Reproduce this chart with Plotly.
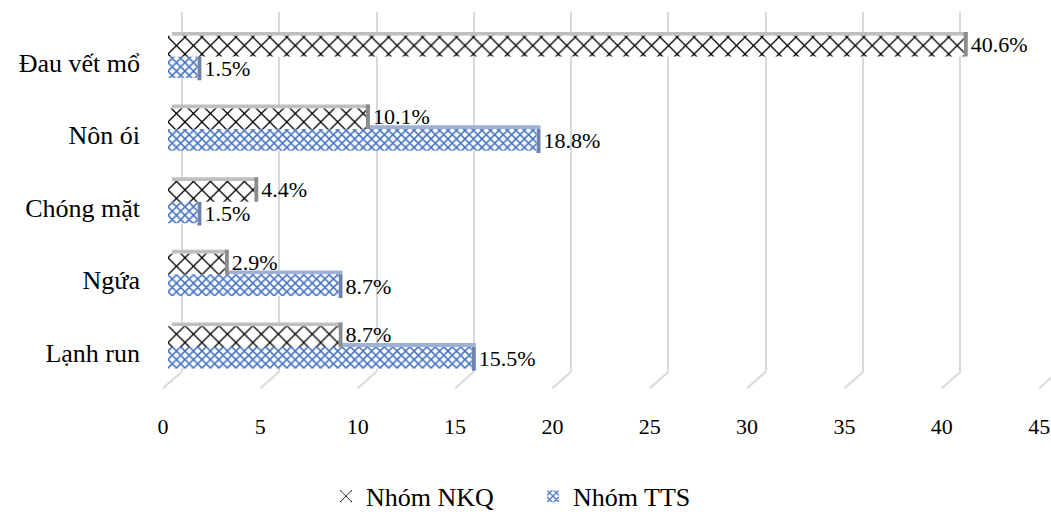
import plotly.graph_objects as go

# ---- data ----
categories = ["Đau vết mổ", "Nôn ói", "Chóng mặt", "Ngứa", "Lạnh run"]
nkq_values = [40.6, 10.1, 4.4, 2.9, 8.7]
tts_values = [1.5, 18.8, 1.5, 8.7, 15.5]
tick_values = [0, 5, 10, 15, 20, 25, 30, 35, 40, 45]
series_names = ["Nhóm NKQ", "Nhóm TTS"]

# ---- canvas geometry (pixels) ----
W, H = 1051, 520
FONT = "Liberation Serif"


def fx(p):
    return p / W


def fy(p):
    return 1 - p / H


# three horizontal scales of the pseudo-3D box: back wall, floor front, bar mid-depth
BACK_X0, BACK_K = 182, 19.45
FRONT_X0, FRONT_K = 163, 19.47
BAR_X0, BAR_K = 168, 19.6
WALL_TOP, WALL_BOTTOM, FLOOR_FRONT = 12, 378, 395
CAT_TOP, CAT_BOTTOM = 20.5, 390
CAT_PX = (CAT_BOTTOM - CAT_TOP) / len(categories)

depth_units = (BACK_X0 - FRONT_X0) / FRONT_K   # floor depth on the front scale
bar_depth = 4 / BAR_K                           # bar side thickness
face = 4 / CAT_PX                               # top-face height, category units
nkq_h = 21 / CAT_PX
tts_h = 22 / CAT_PX

n = len(categories)
fig = go.Figure()

# subplot 1: back-wall gridlines
fig.add_trace(go.Scatter(x=[None], y=[None], xaxis="x", yaxis="y",
                         showlegend=False, hoverinfo="skip"))
# subplot 2: front tick labels
fig.add_trace(go.Scatter(x=[None], y=[None], xaxis="x2", yaxis="y2",
                         showlegend=False, hoverinfo="skip"))

bar_common = dict(orientation="h", xaxis="x3", yaxis="y3", hoverinfo="skip",
                  cliponaxis=False, constraintext="none")

# TTS bar: top face, side face (with value label), front face
fig.add_trace(go.Bar(y=categories, x=tts_values, base=[bar_depth] * n,
                     offset=-face, width=face, showlegend=False,
                     marker=dict(color="#9fb0d6", line=dict(width=0)), **bar_common))
fig.add_trace(go.Bar(y=categories, x=[bar_depth] * n, base=tts_values,
                     offset=0.0, width=tts_h + 0.03, showlegend=False,
                     text=[f"{v}%" for v in tts_values], textposition="outside",
                     textfont=dict(family=FONT, size=22, color="#000000"),
                     marker=dict(color="#6f82ad", line=dict(width=0)), **bar_common))
fig.add_trace(go.Bar(y=categories, x=tts_values, offset=0.0, width=tts_h,
                     name=series_names[1], legendrank=2,
                     marker=dict(color="#4472c4", line=dict(width=0),
                                 pattern=dict(shape="x", fgcolor="#4472c4", bgcolor="#ffffff",
                                              size=6, solidity=0.45, fillmode="replace")),
                     **bar_common))

# NKQ bar: top face, side face (with value label), front face
fig.add_trace(go.Bar(y=categories, x=nkq_values, base=[bar_depth] * n,
                     offset=-(nkq_h + face), width=face, showlegend=False,
                     marker=dict(color="#bfbfbf", line=dict(width=0)), **bar_common))
fig.add_trace(go.Bar(y=categories, x=[bar_depth] * n, base=nkq_values,
                     offset=-(nkq_h + face), width=nkq_h + face, showlegend=False,
                     text=[f"{v}%" for v in nkq_values], textposition="outside",
                     textfont=dict(family=FONT, size=22, color="#000000"),
                     marker=dict(color="#8c8c8c", line=dict(width=0)), **bar_common))
fig.add_trace(go.Bar(y=categories, x=nkq_values, offset=-nkq_h, width=nkq_h,
                     name=series_names[0], legendrank=1,
                     marker=dict(color="#000000", line=dict(width=0),
                                 pattern=dict(shape="x", fgcolor="#000000", bgcolor="#ffffff",
                                              size=12, solidity=0.2, fillmode="replace")),
                     **bar_common))

# slanted floor segments joining back-wall gridlines to the front ticks
shapes = [dict(type="line", xref="x2", yref="paper",
               x0=v + depth_units, y0=fy(WALL_BOTTOM), x1=v, y1=fy(FLOOR_FRONT),
               line=dict(color="#d9d9d9", width=2), layer="below")
          for v in tick_values]

fig.update_layout(
    width=W, height=H,
    margin=dict(l=0, r=0, t=0, b=0),
    paper_bgcolor="#ffffff", plot_bgcolor="rgba(0,0,0,0)",
    font=dict(family=FONT, color="#000000"),
    barmode="overlay",
    shapes=shapes,
    showlegend=True,
    legend=dict(orientation="h", x=fx(326), xanchor="left", y=fy(505), yanchor="middle",
                font=dict(family=FONT, size=26, color="#000000"),
                traceorder="normal", entrywidthmode="pixels", entrywidth=162,
                bgcolor="rgba(0,0,0,0)"),
    xaxis=dict(domain=[fx(BACK_X0 - 0.5 * BACK_K), 1],
               range=[-0.5, (W - BACK_X0) / BACK_K], anchor="y",
               tickvals=tick_values, showticklabels=False, ticks="",
               showgrid=True, gridcolor="#d9d9d9", gridwidth=2,
               zeroline=False, showline=False, fixedrange=True),
    yaxis=dict(domain=[fy(WALL_BOTTOM), fy(WALL_TOP)], range=[0, 1],
               visible=False, showgrid=False, zeroline=False, fixedrange=True),
    xaxis2=dict(domain=[fx(FRONT_X0 - 0.5 * FRONT_K), 1],
                range=[-0.5, (W - FRONT_X0) / FRONT_K], anchor="y2",
                tickvals=tick_values, ticktext=[str(v) for v in tick_values],
                tickfont=dict(family=FONT, size=22, color="#000000"),
                ticks="", ticklabelstandoff=5,
                showgrid=False, zeroline=False, showline=False,
                fixedrange=True),
    yaxis2=dict(domain=[fy(413), fy(403)], range=[0, 1], visible=False,
                showgrid=False, zeroline=False, fixedrange=True),
    xaxis3=dict(domain=[fx(BAR_X0), 1], range=[0, (W - BAR_X0) / BAR_K],
                anchor="y3", visible=False, showgrid=False, zeroline=False,
                fixedrange=True),
    yaxis3=dict(domain=[fy(CAT_BOTTOM), fy(CAT_TOP)], anchor="x3",
                type="category", categoryorder="array", categoryarray=categories,
                range=[n - 0.5, -0.5],
                tickfont=dict(family=FONT, size=26, color="#000000"),
                ticks="", showgrid=False, zeroline=False, showline=False,
                ticklabelstandoff=27, ticklabelshift=-6, fixedrange=True),
)

fig.write_html("out.html")
